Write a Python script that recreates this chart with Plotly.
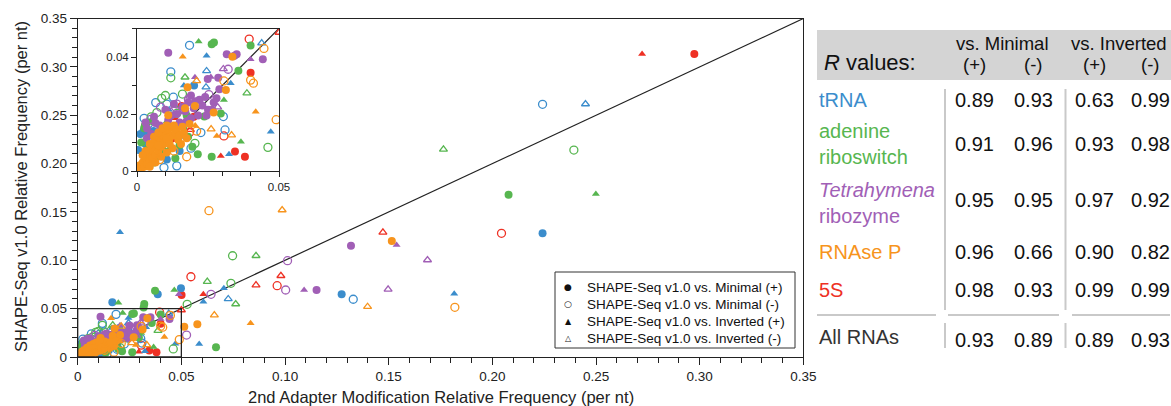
import plotly.graph_objects as go

W, H = 1171, 406

# ---------------- data (x = 2nd adapter, y = SHAPE-Seq v1.0), per nt ----------------
trna_min_pos = [(0.2242,0.1279),(0.1273,0.0648),(0.0386,0.0648),(0.0498,0.0710),(0.0167,0.0566),
                (0.0022,0.0138),(0.0040,0.0138),(0.0058,0.0140),(0.0012,0.0130),(0.0004,0.0074),
                (0.0201,0.0300),(0.0030,0.0095),(0.0105,0.0040),(0.0150,0.0070)]
trna_min_neg = [(0.2242,0.2613),(0.1329,0.0597),(0.0185,0.0441),(0.0119,0.0348),(0.0304,0.0191),
                (0.0310,0.0144),(0.0066,0.0240),(0.0128,0.0259),(0.0140,0.0018),(0.0095,0.0012),
                (0.0190,0.0080),(0.0225,0.0135),(0.0040,0.0165),(0.0025,0.0185),(0.0105,0.0235)]
trna_inv_pos = [(0.0204,0.1289),(0.0705,0.0710),(0.0606,0.0572),(0.0586,0.0134),(0.1816,0.0655),
                (0.0245,0.0404),(0.0330,0.0308),(0.0471,0.0138),(0.0324,0.0059),(0.0112,0.0215),
                (0.0045,0.0052),(0.0165,0.0300)]
trna_inv_neg = [(0.2449,0.2616),(0.0726,0.0600),(0.0439,0.0449),(0.0245,0.0351),(0.0243,0.0294),
                (0.0028,0.0027),(0.0175,0.0120)]

adenine_min_pos = [(0.2078,0.1678),(0.0373,0.0686),(0.0667,0.0100),(0.0321,0.0548),(0.0318,0.0512),
                   (0.0263,0.0445),(0.0271,0.0451),(0.0400,0.0440),(0.0357,0.0352),(0.0237,0.0191),
                   (0.0263,0.0050),(0.0214,0.0059),(0.0060,0.0030),(0.0090,0.0060),(0.0120,0.0080),
                   (0.0150,0.0090),(0.0180,0.0120),(0.0080,0.0120),(0.0040,0.0080),(0.0175,0.0195),
                   (0.0295,0.0202),(0.0135,0.0045),(0.0195,0.0085),(0.0015,0.0100),(0.0025,0.0150),
                   (0.0055,0.0175)]
adenine_min_neg = [(0.2393,0.2140),(0.0747,0.1047),(0.0739,0.0762),(0.0461,0.0083),(0.0528,0.0545),
                   (0.0119,0.0327),(0.0087,0.0255),(0.0140,0.0202),(0.0204,0.0097),(0.0050,0.0190),
                   (0.0160,0.0150),(0.0030,0.0160),(0.0070,0.0205),(0.0100,0.0265),(0.0160,0.0270)]
adenine_inv_pos = [(0.2499,0.1685),(0.0466,0.0693),(0.0196,0.0561),(0.0217,0.0454),(0.0306,0.0249),
                   (0.0366,0.0103),(0.0135,0.0228),(0.0070,0.0045),(0.0105,0.0175)]
adenine_inv_neg = [(0.1764,0.2147),(0.0860,0.1047),(0.0625,0.0779),(0.0762,0.0548),(0.0169,0.0329),
                   (0.0387,0.0273),(0.0110,0.0085)]

tetra_min_pos = [(0.1318,0.1150),(0.1152,0.0693),(0.0110,0.0415),(0.0316,0.0410),(0.0351,0.0410),
                 (0.0343,0.0404),(0.0443,0.0392),(0.0249,0.0323),(0.0286,0.0327),(0.0290,0.0287),
                 (0.0050,0.0130),(0.0080,0.0160),(0.0110,0.0180),(0.0140,0.0200),(0.0170,0.0210),
                 (0.0200,0.0220),(0.0230,0.0230),(0.0250,0.0215),(0.0190,0.0185),(0.0150,0.0170),
                 (0.0120,0.0195),(0.0090,0.0135),(0.0220,0.0250),(0.0270,0.0240),(0.0205,0.0245),
                 (0.0160,0.0225),(0.0035,0.0115),(0.0245,0.0195),(0.0180,0.0240),(0.0065,0.0168),
                 (0.0030,0.0170),(0.0060,0.0190),(0.0100,0.0215),(0.0130,0.0235),(0.0190,0.0265),
                 (0.0240,0.0260),(0.0265,0.0215),(0.0280,0.0255),(0.0215,0.0195),(0.0175,0.0175),
                 (0.0035,0.0150)]
tetra_min_neg = [(0.1003,0.0693),(0.1012,0.0996),(0.0643,0.0648),(0.0525,0.0227),(0.0321,0.0357),
                 (0.0083,0.0224),(0.0048,0.0181),(0.0181,0.0252),(0.0253,0.0268),(0.0140,0.0235)]
tetra_inv_pos = [(0.1092,0.0693),(0.1538,0.1158),(0.0488,0.0648),(0.0400,0.0392),(0.0204,0.0329),
                 (0.0150,0.0205),(0.0210,0.0225),(0.0260,0.0330)]
tetra_inv_neg = [(0.1687,0.1003),(0.1497,0.0700),(0.0304,0.0358),(0.0284,0.0224),(0.0185,0.0262),
                 (0.0120,0.0210)]

rnasep_min_pos = [(0.1515,0.1199),(0.0577,0.0338),(0.0514,0.0313),(0.0336,0.0401),(0.0313,0.0284),
                  (0.0270,0.0205),(0.0169,0.0220),(0.0204,0.0228),(0.0178,0.0294),(0.0110,0.0196),
                  (0.0005,0.0005),(0.0010,0.0020),(0.0015,0.0010),(0.0020,0.0030),(0.0025,0.0015),
                  (0.0030,0.0045),(0.0035,0.0025),(0.0040,0.0060),(0.0045,0.0035),(0.0050,0.0075),
                  (0.0055,0.0045),(0.0060,0.0090),(0.0065,0.0055),(0.0070,0.0105),(0.0075,0.0070),
                  (0.0080,0.0115),(0.0085,0.0085),(0.0090,0.0125),(0.0095,0.0095),(0.0100,0.0135),
                  (0.0105,0.0105),(0.0110,0.0145),(0.0115,0.0115),(0.0120,0.0155),(0.0125,0.0125),
                  (0.0130,0.0160),(0.0135,0.0135),(0.0140,0.0145),(0.0145,0.0110),(0.0150,0.0125),
                  (0.0155,0.0095),(0.0125,0.0080),(0.0105,0.0065),(0.0085,0.0050),(0.0065,0.0030),
                  (0.0045,0.0015),(0.0030,0.0070),(0.0045,0.0095),(0.0060,0.0120),(0.0075,0.0135),
                  (0.0090,0.0150),(0.0105,0.0160),(0.0020,0.0055),(0.0165,0.0135),(0.0175,0.0115),
                  (0.0160,0.0155),(0.0185,0.0165),(0.0105,0.0115),(0.0075,0.0090),(0.0115,0.0095)]
rnasep_min_neg = [(0.0633,0.1513),(0.1819,0.0514),(0.0490,0.0180),(0.0447,0.0430),(0.0400,0.0319),
                  (0.0410,0.0308),(0.0306,0.0316),(0.0175,0.0050),(0.0080,0.0040),(0.0130,0.0070),
                  (0.0210,0.0140)]
rnasep_inv_pos = [(0.0834,0.0348),(0.0161,0.0401),(0.0418,0.0208),(0.0281,0.0123),(0.0055,0.0105),
                  (0.0205,0.0160)]
rnasep_inv_neg = [(0.0986,0.1520),(0.0659,0.0434),(0.1398,0.0520),(0.0261,0.0147),(0.0333,0.0126),
                  (0.0210,0.0316)]

s5_min_pos = [(0.2974,0.3133),(0.0501,0.0641),(0.0400,0.0345),(0.0345,0.0068),(0.0380,0.0050),
              (0.0157,0.0228),(0.0125,0.0115),(0.0200,0.0190)]
s5_min_neg = [(0.2044,0.1279),(0.0546,0.0830),(0.0962,0.0737),(0.0395,0.0463),(0.0306,0.0123),
              (0.0185,0.0135)]
s5_inv_pos = [(0.2722,0.3133),(0.0606,0.0648),(0.0295,0.0053),(0.0135,0.0185),(0.0105,0.0160)]
s5_inv_neg = [(0.1472,0.1289),(0.0980,0.0840),(0.0860,0.0744),(0.0500,0.0486),(0.0188,0.0145)]

# table
table_names = ["tRNA", "adenine<br>riboswitch", "<i>Tetrahymena</i><br>ribozyme", "RNAse P", "5S"]
r_values = [[0.89, 0.93, 0.63, 0.99],
            [0.91, 0.96, 0.93, 0.98],
            [0.95, 0.95, 0.97, 0.92],
            [0.96, 0.66, 0.90, 0.82],
            [0.98, 0.93, 0.99, 0.99]]
all_rna_values = [0.93, 0.89, 0.89, 0.93]
legend_labels = ["SHAPE-Seq v1.0 vs. Minimal (+)", "SHAPE-Seq v1.0 vs. Minimal (-)",
                 "SHAPE-Seq v1.0 vs. Inverted (+)", "SHAPE-Seq v1.0 vs. Inverted (-)"]
main_ticks = [0, 0.05, 0.10, 0.15, 0.20, 0.25, 0.30, 0.35]
main_ticktext = ["0", "0.05", "0.10", "0.15", "0.20", "0.25", "0.30", "0.35"]
inset_xticks, inset_xtext = [0, 0.05], ["0", "0.05"]
inset_yticks, inset_ytext = [0, 0.02, 0.04], ["0", "0.02", "0.04"]
MAIN_MAX, INSET_MAX = 0.35, 0.05

# ---------------- styling ----------------
BLUE, GREEN, PURPLE, ORANGE, RED = "#3b8dcc", "#57b650", "#a15fb6", "#f7941d", "#ee3124"
FONT = "Liberation Sans, Arial, Helvetica, sans-serif"
INK = "#222222"

series = [  # drawn in this order (later on top)
    (RED,    [s5_min_pos, s5_min_neg, s5_inv_pos, s5_inv_neg]),
    (BLUE,   [trna_min_pos, trna_min_neg, trna_inv_pos, trna_inv_neg]),
    (GREEN,  [adenine_min_pos, adenine_min_neg, adenine_inv_pos, adenine_inv_neg]),
    (PURPLE, [tetra_min_pos, tetra_min_neg, tetra_inv_pos, tetra_inv_neg]),
    (ORANGE, [rnasep_min_pos, rnasep_min_neg, rnasep_inv_pos, rnasep_inv_neg]),
]
symbols = ["circle", "circle-open", "triangle-up", "triangle-up-open"]
sizes = [8, 8, 7, 7]

def px(x):
    return x / W

def py(y):
    return 1 - y / H

fig = go.Figure()
for color, groups in series:
    for pts, sym, sz in zip(groups, symbols, sizes):
        xs = [p[0] for p in pts]
        ys = [p[1] for p in pts]
        for xa, ya in (("x", "y"), ("x2", "y2")):
            fig.add_trace(go.Scatter(
                x=xs, y=ys, mode="markers", xaxis=xa, yaxis=ya, showlegend=False,
                hoverinfo="skip",
                marker=dict(symbol=sym, size=sz, color=color,
                            line=dict(width=1.3 if "open" in sym else 0, color=color))))

axis_common = dict(showline=True, linecolor=INK, linewidth=1, mirror=True, ticks="outside",
                   tickcolor=INK, showgrid=False, zeroline=False, fixedrange=True,
                   automargin=False, tickfont=dict(family=FONT, color=INK))

main_dom_x = [77.7 / W, 803.4 / W]
main_dom_y = [py(357), py(18.5)]
inset_dom_x = [137 / W, 279 / W]
inset_dom_y = [py(171), py(28.5)]

def minor(len_):
    return dict(tickmode="linear", tick0=0, dtick=0.01, ticklen=len_, ticks="outside",
                tickcolor=INK)

fig.update_layout(
    width=W, height=H, margin=dict(l=0, r=0, t=0, b=0, pad=0, autoexpand=False),
    paper_bgcolor="white", plot_bgcolor="white", showlegend=False,
    font=dict(family=FONT, color=INK),
    xaxis=dict(axis_common, domain=main_dom_x, range=[0, MAIN_MAX], anchor="y",
               tickmode="array", tickvals=main_ticks, ticktext=main_ticktext, ticklen=7,
               tickfont=dict(family=FONT, size=13.5, color=INK), minor=minor(5)),
    yaxis=dict(axis_common, domain=main_dom_y, range=[0, MAIN_MAX], anchor="x",
               tickmode="array", tickvals=main_ticks, ticktext=main_ticktext, ticklen=7,
               tickfont=dict(family=FONT, size=13.5, color=INK), minor=minor(5)),
    xaxis2=dict(axis_common, domain=inset_dom_x, range=[0, INSET_MAX], anchor="y2",
                tickmode="array", tickvals=inset_xticks, ticktext=inset_xtext, ticklen=5,
                tickfont=dict(family=FONT, size=11.5, color=INK), minor=minor(4)),
    yaxis2=dict(axis_common, domain=inset_dom_y, range=[0, INSET_MAX], anchor="x2",
                tickmode="array", tickvals=inset_yticks, ticktext=inset_ytext, ticklen=5,
                tickfont=dict(family=FONT, size=11.5, color=INK), minor=minor(4)),
)

shapes = [
    dict(type="line", xref="x", yref="y", x0=0, y0=0, x1=MAIN_MAX, y1=MAIN_MAX,
         line=dict(color=INK, width=1.2), layer="below"),
    dict(type="rect", xref="x", yref="y", x0=0, y0=0, x1=INSET_MAX, y1=INSET_MAX,
         line=dict(color=INK, width=1.3), layer="above"),
    dict(type="line", xref="x2", yref="y2", x0=0, y0=0, x1=INSET_MAX, y1=INSET_MAX,
         line=dict(color=INK, width=1.2), layer="below"),
    # legend box
    dict(type="rect", xref="paper", yref="paper", x0=px(555), x1=px(795), y0=py(348), y1=py(272),
         line=dict(color="#333333", width=1), fillcolor="white", layer="above"),
    # table header band
    dict(type="rect", xref="paper", yref="paper", x0=px(817), x1=1.0, y0=py(80), y1=py(30),
         line=dict(width=0), fillcolor="#d4d4d4", layer="below"),
]
GRAY = "#c9c9c9"
for vx in (945, 1065.5):
    shapes.append(dict(type="line", xref="paper", yref="paper", x0=px(vx), x1=px(vx),
                       y0=py(310), y1=py(89), line=dict(color=GRAY, width=2)))
    shapes.append(dict(type="line", xref="paper", yref="paper", x0=px(vx), x1=px(vx),
                       y0=py(348), y1=py(323), line=dict(color=GRAY, width=2)))
for x0, x1 in ((817, 936), (948, 1059), (1072, 1170)):
    shapes.append(dict(type="line", xref="paper", yref="paper", x0=px(x0), x1=px(x1),
                       y0=py(315), y1=py(315), line=dict(color=GRAY, width=2)))
fig.update_layout(shapes=shapes)

ann = []
def text(x, y, s, size, color=INK, xanchor="center", family=FONT, angle=0, align="center"):
    ann.append(dict(xref="paper", yref="paper", x=px(x), y=py(y), text=s, showarrow=False,
                    xanchor=xanchor, yanchor="middle", textangle=angle, align=align,
                    font=dict(family=family, size=size, color=color)))

# axis titles
text(440.5, 396.5, "2nd Adapter Modification Relative Frequency (per nt)", 16.5)
text(21, 187, "SHAPE-Seq v1.0 Relative Frequency (per nt)", 16.5, angle=-90)

# legend
legend_glyphs = ["●", "○", "▲", "△"]
legend_rows = [287, 304, 321, 338]
for g, lab, yy in zip(legend_glyphs, legend_labels, legend_rows):
    text(568, yy, g, 9 if g in "●○" else 8, color="#111111", family="DejaVu Sans")
    text(585, yy, lab, 13.5, color="#111111", xanchor="left")

# table
text(821.5, 63, "<i>R</i> values:", 22, color="#111111", xanchor="left")
text(1002, 43, "vs. Minimal", 18.5, color="#111111")
text(1119, 43, "vs. Inverted", 18.5, color="#111111")
col_x = [974, 1033, 1094, 1150]
for cx, lab in zip(col_x, ["(+)", "(-)", "(+)", "(-)"]):
    text(cx, 64, lab, 18.5, color="#111111")

name_colors = [BLUE, GREEN, PURPLE, ORANGE, RED]
name_y = [100, 144, 202.5, 251.5, 290]
value_y = [100, 144, 200, 251.5, 290]
for name, col, ny, vy, vals in zip(table_names, name_colors, name_y, value_y, r_values):
    text(817, ny, name, 20, color=col, xanchor="left", align="left")
    for cx, v in zip(col_x, vals):
        text(cx, vy, f"{v:.2f}", 20, color="#111111")
text(817, 337, "All RNAs", 20, color="#333333", xanchor="left")
for cx, v in zip(col_x, all_rna_values):
    text(cx, 340, f"{v:.2f}", 20, color="#111111")

fig.update_layout(annotations=ann)
fig.write_html("out.html", config={"displayModeBar": False, "staticPlot": True},
               post_script="document.body.style.margin='0px';"
                           "document.body.style.overflow='hidden';")
